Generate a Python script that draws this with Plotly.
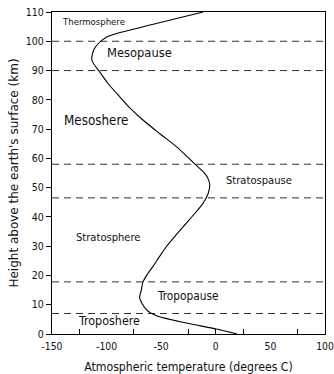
import plotly.graph_objects as go

# Temperature profile (km, degrees C)
height_km = [0, 1.7, 3.75, 6.2, 8.3, 12.3, 15.1, 17.8, 20.5, 23.1, 26.5, 29.9, 34, 37.9, 41.5, 44.7, 48, 51, 53, 54.9, 58.1, 61, 64, 68.5, 73.1, 77, 81.1, 85.5, 89.6, 93.6, 97.6, 101.4, 104.1, 106.9, 110]
temp_c = [19.5, 0.6, -26.9, -54.4, -63.6, -69.7, -68.2, -66.7, -62.5, -57.5, -51.5, -45.2, -36, -26.9, -18.5, -11.6, -7, -5.5, -7, -10.1, -19.3, -27.5, -36.1, -51.5, -66.7, -78, -88.1, -98.5, -106.4, -113.5, -111, -100.3, -75.9, -45.2, -11.6]

boundary_km = [100, 90, 58, 46.5, 17.8, 7]

layer_names = ["Thermosphere", "Mesopause", "Mesoshere", "Stratospause", "Stratosphere", "Tropopause", "Troposhere"]
layer_x = [-143, -70, -110, 39.5, -98, -25.7, -98]
layer_y = [106.6, 96.3, 73, 52.6, 32.9, 13, 4.5]
layer_size = [9.5, 12.8, 13.3, 11.1, 11.1, 11.8, 12.4]
layer_anchor = ["left", "center", "center", "center", "center", "center", "center"]

x_tick_vals = [-150, -100, -50, 0, 50, 100]
x_tick_text = ["-150", "-100", "-50", "0", "50", "100"]
x_minor_vals = [-125, -75, -25, 0, 25, 75]
y_tick_vals = list(range(0, 111, 10))

COND = "DejaVu Sans Condensed, DejaVu Sans"

fig = go.Figure()

for h in boundary_km:
    fig.add_trace(go.Scatter(x=[-150, 100], y=[h, h], mode="lines",
                             line=dict(color="#333", width=1, dash="7px,5px"),
                             hoverinfo="skip", showlegend=False))

fig.add_trace(go.Scatter(x=temp_c, y=height_km, mode="lines",
                         line=dict(color="black", width=1.1, shape="spline", smoothing=0.8),
                         showlegend=False))

# invisible trace to carry the secondary tick axis
fig.add_trace(go.Scatter(x=[-150], y=[0], xaxis="x2", mode="markers",
                         marker=dict(opacity=0), hoverinfo="skip", showlegend=False))

for name, x, y, s, a in zip(layer_names, layer_x, layer_y, layer_size, layer_anchor):
    fig.add_annotation(x=x, y=y, text=name, showarrow=False, xanchor=a, yanchor="middle",
                       font=dict(size=s, color="#111", family=COND))

fig.update_layout(
    width=334, height=374,
    margin=dict(l=52, r=9, t=12, b=40, autoexpand=False),
    paper_bgcolor="white", plot_bgcolor="white",
    font=dict(family=COND, color="#111", size=11),
    xaxis=dict(range=[-150, 100], tickvals=x_tick_vals, ticktext=x_tick_text, ticks="",
               showgrid=False, zeroline=False, automargin=False, ticklabelstandoff=3,
               ticklabeloverflow="allow",
               showline=True, linecolor="black", linewidth=1.2, mirror=True,
               tickfont=dict(size=10.3, family=COND),
               title=dict(text="Atmospheric temperature (degrees C)", font=dict(size=12.2, family=COND), standoff=13)),
    xaxis2=dict(range=[-150, 100], overlaying="x", anchor="y", side="bottom", tickvals=x_minor_vals,
                showticklabels=False, ticks="inside", ticklen=5, tickcolor="black", tickwidth=1,
                showgrid=False, zeroline=False, showline=False, automargin=False),
    yaxis=dict(range=[0, 110], tickvals=y_tick_vals, ticks="outside", ticklen=5, tickcolor="black",
               showgrid=False, zeroline=False, showline=True, linecolor="black", linewidth=1.2, mirror=True,
               tickfont=dict(size=10.5, family=COND), automargin=False, ticklabeloverflow="allow",
               title=dict(text="Height above the earth's surface (km)", font=dict(size=12, family="DejaVu Sans"), standoff=4)),
)

# remove the default page margin so the figure fills the window exactly; hide the modebar
fig.write_html("out.html", config={"displayModeBar": False},
               post_script="document.body.style.margin='0';document.body.style.overflow='hidden';")
